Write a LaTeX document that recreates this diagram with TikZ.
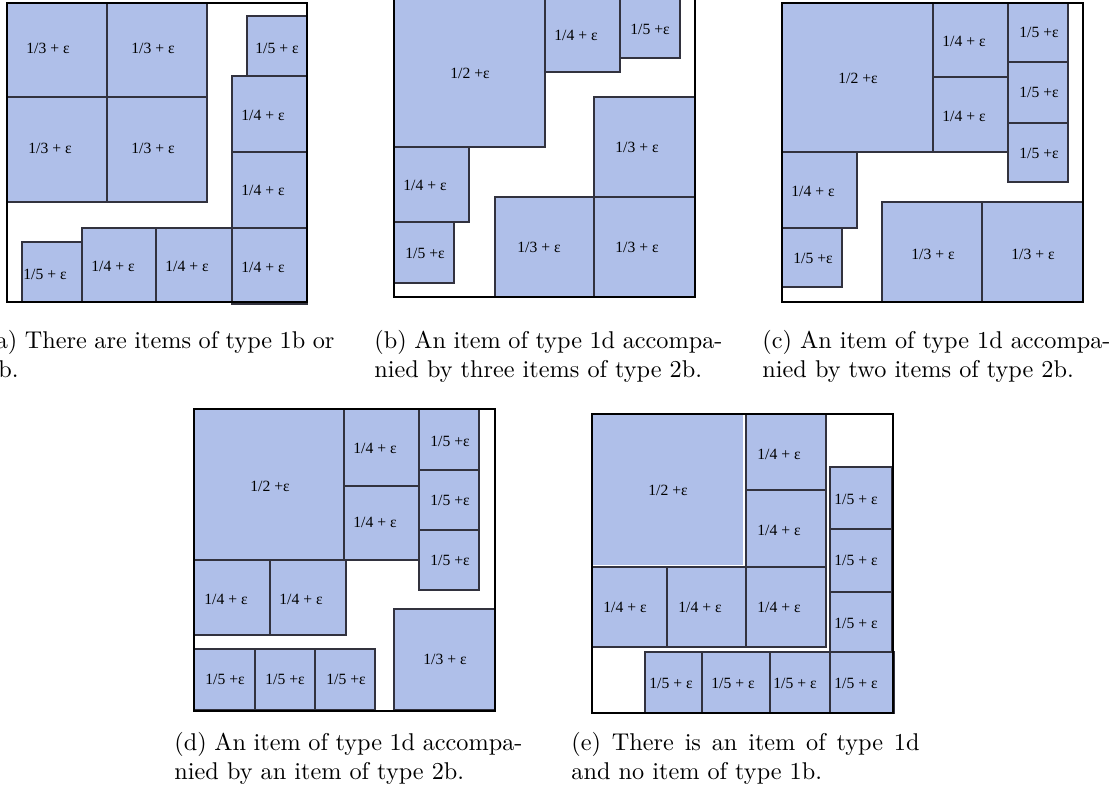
\documentclass[tikz,border=0pt]{standalone}
\usepackage{fontspec}
\newfontfamily\lblfont{Liberation Serif}
\definecolor{itemblue}{RGB}{175,191,233}
\definecolor{itemline}{RGB}{50,50,62}
\tikzset{
  itembox/.style={fill=itemblue, draw=itemline, line width=0.45pt},
  binframe/.style={draw=black, line width=1.2pt},
  lbl/.style={font=\lblfont\fontsize{6.8}{8}\selectfont, inner sep=0pt},
  captext/.style={font=\fontsize{10.55}{12.66}\selectfont, inner sep=0pt, anchor=base west}
}
\begin{document}
\begin{tikzpicture}[x=0.435pt, y=-0.435pt]
\useasboundingbox (0,0) rectangle (1112,795);
\clip (0,0) rectangle (1112,795);
% ---------------- panel (a)
\filldraw[itembox] (7,3) rectangle (107,97);
\filldraw[itembox] (107,3) rectangle (207,97);
\filldraw[itembox] (7,97) rectangle (107,202);
\filldraw[itembox] (107,97) rectangle (207,202);
\filldraw[itembox] (247,16) rectangle (307,76);
\filldraw[itembox] (232,76) rectangle (307,152);
\filldraw[itembox] (232,152) rectangle (307,228);
\filldraw[itembox] (232,228) rectangle (307,304);
\filldraw[itembox] (82,228) rectangle (156,302);
\filldraw[itembox] (156,228) rectangle (232,302);
\filldraw[itembox] (22,242) rectangle (82,302);
\draw[binframe] (7,3) rectangle (307,302);
\node[lbl] (a1) at (48,48) {1/3 + ε};
\node[lbl] (a2) at (153,48) {1/3 + ε};
\node[lbl] (a3) at (50,148) {1/3 + ε};
\node[lbl] (a4) at (153,148) {1/3 + ε};
\node[lbl] (a5) at (277,48) {1/5 + ε};
\node[lbl] (a6) at (263,115) {1/4 + ε};
\node[lbl] (a7) at (263,190) {1/4 + ε};
\node[lbl] (a8) at (263,267) {1/4 + ε};
\node[lbl] (a9) at (45,274) {1/5 + ε};
\node[lbl] (a10) at (113,266) {1/4 + ε};
\node[lbl] (a11) at (187,266) {1/4 + ε};
% ---------------- panel (b)
\filldraw[itembox] (394,-5) rectangle (545,147);
\filldraw[itembox] (545,-5) rectangle (620,72);
\filldraw[itembox] (620,-5) rectangle (680,58);
\filldraw[itembox] (394,147) rectangle (469,222);
\filldraw[itembox] (394,222) rectangle (454,283);
\filldraw[itembox] (495,197) rectangle (594,297);
\filldraw[itembox] (594,197) rectangle (695,297);
\filldraw[itembox] (594,97) rectangle (695,197);
\draw[binframe] (394,-3) rectangle (695,297);
\node[lbl] (b1) at (470,73) {1/2 +ε};
\node[lbl] (b2) at (576,35) {1/4 + ε};
\node[lbl] (b3) at (650,29) {1/5 +ε};
\node[lbl] (b4) at (637,147) {1/3 + ε};
\node[lbl] (b5) at (425,185) {1/4 + ε};
\node[lbl] (b6) at (425,253) {1/5 +ε};
\node[lbl] (b7) at (539,247) {1/3 + ε};
\node[lbl] (b8) at (637,247) {1/3 + ε};
% ---------------- panel (c)
\filldraw[itembox] (782,3) rectangle (933,152);
\filldraw[itembox] (933,3) rectangle (1008,77);
\filldraw[itembox] (933,77) rectangle (1008,152);
\filldraw[itembox] (1008,3) rectangle (1068,62);
\filldraw[itembox] (1008,62) rectangle (1068,123);
\filldraw[itembox] (1008,123) rectangle (1068,182);
\filldraw[itembox] (782,152) rectangle (857,228);
\filldraw[itembox] (782,228) rectangle (842,287);
\filldraw[itembox] (882,202) rectangle (982,302);
\filldraw[itembox] (982,202) rectangle (1083,302);
\draw[binframe] (782,3) rectangle (1083,302);
\node[lbl] (c1) at (858,78) {1/2 +ε};
\node[lbl] (c2) at (964,41) {1/4 + ε};
\node[lbl] (c3) at (964,116) {1/4 + ε};
\node[lbl] (c4) at (1039,32) {1/5 +ε};
\node[lbl] (c5) at (1039,92) {1/5 +ε};
\node[lbl] (c6) at (1039,153) {1/5 +ε};
\node[lbl] (c7) at (813,191) {1/4 + ε};
\node[lbl] (c8) at (813,258) {1/5 +ε};
\node[lbl] (c9) at (933,254) {1/3 + ε};
\node[lbl] (c10) at (1033,254) {1/3 + ε};
% ---------------- panel (d)
\filldraw[itembox] (194,409) rectangle (344,560);
\filldraw[itembox] (344,409) rectangle (419,486);
\filldraw[itembox] (344,486) rectangle (419,560);
\filldraw[itembox] (419,409) rectangle (479,470);
\filldraw[itembox] (419,470) rectangle (479,530);
\filldraw[itembox] (419,530) rectangle (479,590);
\filldraw[itembox] (194,560) rectangle (270,635);
\filldraw[itembox] (270,560) rectangle (346,635);
\filldraw[itembox] (194,649) rectangle (255,710);
\filldraw[itembox] (255,649) rectangle (315,710);
\filldraw[itembox] (315,649) rectangle (375,710);
\filldraw[itembox] (394,609) rectangle (495,710);
\draw[binframe] (194,409) rectangle (495,711);
\node[lbl] (d1) at (270,486) {1/2 +ε};
\node[lbl] (d2) at (375,448) {1/4 + ε};
\node[lbl] (d3) at (375,522) {1/4 + ε};
\node[lbl] (d4) at (450,441) {1/5 +ε};
\node[lbl] (d5) at (450,500) {1/5 +ε};
\node[lbl] (d6) at (450,560) {1/5 +ε};
\node[lbl] (d7) at (226,599) {1/4 + ε};
\node[lbl] (d8) at (301,599) {1/4 + ε};
\node[lbl] (d9) at (225,679) {1/5 +ε};
\node[lbl] (d10) at (285,679) {1/5 +ε};
\node[lbl] (d11) at (346,679) {1/5 +ε};
\node[lbl] (d12) at (445,659) {1/3 + ε};
% ---------------- panel (e)
\filldraw[fill=itemblue, draw=white, line width=0.7pt] (592,414) rectangle (744,566);
\filldraw[itembox] (746,414) rectangle (826,490);
\filldraw[itembox] (746,490) rectangle (826,567);
\filldraw[itembox] (592,567) rectangle (667,647);
\filldraw[itembox] (667,567) rectangle (746,647);
\filldraw[itembox] (746,567) rectangle (826,647);
\filldraw[itembox] (830,467) rectangle (892,529);
\filldraw[itembox] (830,529) rectangle (892,592);
\filldraw[itembox] (830,592) rectangle (892,652);
\filldraw[itembox] (645,652) rectangle (702,713);
\filldraw[itembox] (702,652) rectangle (770,713);
\filldraw[itembox] (770,652) rectangle (830,713);
\filldraw[itembox] (830,652) rectangle (894,713);
\draw[binframe] (592,414) rectangle (893,713);
\node[lbl] (e1) at (668,490) {1/2 +ε};
\node[lbl] (e2) at (779,454) {1/4 + ε};
\node[lbl] (e3) at (779,530) {1/4 + ε};
\node[lbl] (e4) at (625,607) {1/4 + ε};
\node[lbl] (e5) at (700,607) {1/4 + ε};
\node[lbl] (e6) at (779,607) {1/4 + ε};
\node[lbl] (e7) at (856,499) {1/5 + ε};
\node[lbl] (e8) at (856,560) {1/5 + ε};
\node[lbl] (e9) at (856,623) {1/5 + ε};
\node[lbl] (e10) at (671,683) {1/5 + ε};
\node[lbl] (e11) at (733,683) {1/5 + ε};
\node[lbl] (e12) at (795,683) {1/5 + ε};
\node[lbl] (e13) at (856,683) {1/5 + ε};
% ---------------- captions
\node[captext] (capa1) at (-4.6,348) {\hbox to 147.3pt{a) There are items of type 1b or}};
\node[captext] (capa2) at (-2,377) {b.};
\node[captext] (capb1) at (374,348) {\hbox to 151.4pt{(b) An item of type 1d accompa-}};
\node[captext] (capb2) at (374,377) {nied by three items of type 2b.};
\node[captext] (capc1) at (762,348) {\hbox to 151.4pt{(c) An item of type 1d accompa-}};
\node[captext] (capc2) at (762,377) {nied by two items of type 2b.};
\node[captext] (capd1) at (174,750) {\hbox to 151.4pt{(d) An item of type 1d accompa-}};
\node[captext] (capd2) at (174,779) {nied by an item of type 2b.};
\node[captext] (cape1) at (571,750) {\hbox to 151.4pt{(e) There is an item of type 1d}};
\node[captext] (cape2) at (571,779) {and no item of type 1b.};
\end{tikzpicture}
\end{document}
